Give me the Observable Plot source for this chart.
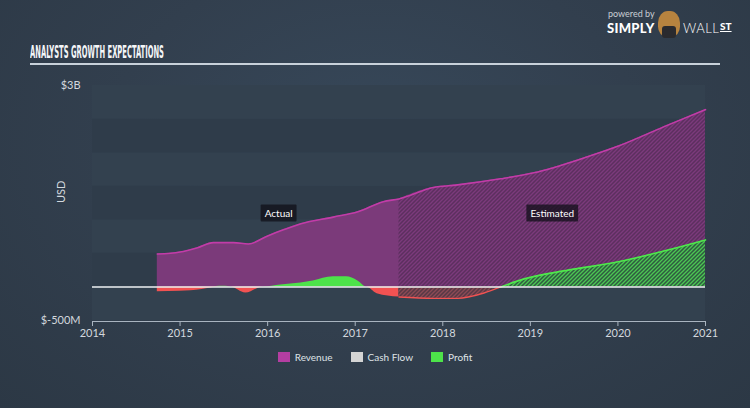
<!DOCTYPE html>
<html>
<head>
<meta charset="utf-8">
<script src="https://cdn.jsdelivr.net/npm/d3@7"></script>
<script src="https://cdn.jsdelivr.net/npm/@observablehq/plot@0.6"></script>
<style>
  html, body { margin: 0; padding: 0; }
  body { width: 750px; height: 408px; overflow: hidden; background: #2f3c4a; }
  #wrap { position: relative; width: 750px; height: 408px;
    background: radial-gradient(ellipse at 50% 35%, #37485a 0%, #323f4e 50%, #2c3845 100%);
    font-family: Lato, "Open Sans", sans-serif; }
  #title { position: absolute; left: 30px; top: 44px; color: #f4f6f8; font-family: "Liberation Sans Narrow", "DejaVu Sans Condensed", sans-serif;
    font-weight: bold; font-size: 17px; line-height: 17px; white-space: nowrap; transform-origin: 0 0; }
  #rule { position: absolute; left: 30px; top: 63px; width: 690px; height: 1.5px; background: #c8d1da; }
  #chart { position: absolute; left: 0; top: 70px; }
  #legend { position: absolute; left: 0; top: 351px; width: 750px; display: flex; justify-content: center; gap: 18px;
    font-size: 10px; color: #dfe3e7; font-family: Lato, sans-serif; }
  #legend .item { display: flex; align-items: center; gap: 5px; }
  #legend .sw { width: 12px; height: 10px; display: inline-block; }
  #logo { position: absolute; left: 606px; top: 8px; color: #fff; font-family: Lato, sans-serif; }
  #logo .pb { position: absolute; left: 2px; top: 0px; font-size: 9px; color: #c9ced4; white-space: nowrap; }
  #logo .simply { position: absolute; left: 1px; top: 12px; font-size: 13px; font-weight: 900; letter-spacing: 0.3px; }
  #logo .icon { position: absolute; left: 52px; top: 3px; width: 22px; height: 26px; border-radius: 45% 45% 40% 40%; background: #b7833f; }
  #logo .icon2 { position: absolute; left: 56px; top: 18px; width: 14px; height: 12px; border-radius: 3px; background: #2a2a2e; }
  #logo .wall { position: absolute; left: 77px; top: 12px; font-size: 13px; font-weight: 300; letter-spacing: 0.5px; }
  #logo .st { position: absolute; left: 114px; top: 12px; font-size: 10px; font-weight: 900; text-decoration: underline; }
</style>
</head>
<body>
<div id="wrap">
  <div id="logo">
    <span class="pb">powered by</span>
    <span class="simply">SIMPLY</span>
    <span class="icon"></span><span class="icon2"></span>
    <span class="wall">WALL</span>
    <span class="st">ST</span>
  </div>
  <div id="title">ANALYSTS GROWTH EXPECTATIONS</div>
  <div id="rule"></div>
  <div id="chart"></div>
  <div id="legend"></div>
</div>
<script>
// ---- data (values in billions USD) ----
const revenueYears = [2014.74, 2015.0, 2015.2, 2015.38, 2015.61, 2015.78, 2016.0, 2016.18, 2016.38, 2016.75, 2017.03, 2017.32, 2017.5, 2017.89, 2018.17, 2018.66, 2019.04, 2019.61, 2019.99, 2020.57, 2021.0];
const revenueValues = [0.49, 0.52, 0.585, 0.66, 0.66, 0.64, 0.76, 0.85, 0.94, 1.04, 1.12, 1.27, 1.31, 1.48, 1.52, 1.61, 1.70, 1.92, 2.09, 2.41, 2.64];

const profitYears = [2014.74, 2015.0, 2015.25, 2015.38, 2015.45, 2015.52, 2015.58, 2015.75, 2015.95, 2016.15, 2016.38, 2016.52, 2016.75, 2016.9, 2017.03, 2017.13, 2017.25, 2017.5, 2017.89, 2018.17, 2018.47, 2018.66, 2018.93, 2019.43, 2019.99, 2020.57, 2021.0];
const profitValues = [-0.07, -0.065, -0.04, -0.01, 0.01, 0.01, 0.0, -0.09, 0.0, 0.03, 0.06, 0.09, 0.15, 0.15, 0.09, 0.0, -0.10, -0.15, -0.17, -0.17, -0.09, 0.0, 0.12, 0.25, 0.37, 0.55, 0.70];

const estimateStart = 2017.5;
const xTicks = [2014, 2015, 2016, 2017, 2018, 2019, 2020, 2021];
const yTicks = [3, -0.5];
const yTickLabels = ["$3B", "$-500M"];
const bandEdges = [-0.5, 0, 0.5, 1, 1.5, 2, 2.5, 3];
const phaseLabels = ["Actual", "Estimated"];
const phaseX = [2016.125, 2019.25];
const phaseY = [1.09, 1.09];
const legendNames = ["Revenue", "Cash Flow", "Profit"];
const legendColors = ["#b43ea2", "#d4d4d4", "#4de34a"];

// ---- tables ----
const revenue = revenueYears.map((year, i) => ({year, value: revenueValues[i]}));
const profit = profitYears.map((year, i) => ({year, value: profitValues[i], pos: Math.max(0, profitValues[i]), neg: Math.min(0, profitValues[i])}));
const revEst = revenue.filter(d => d.year >= estimateStart);
const profAct = profit.filter(d => d.year <= estimateStart);
const profEst = profit.filter(d => d.year >= estimateStart);
const bands = bandEdges.slice(0, -1).map((y1, i) => ({y1, y2: bandEdges[i + 1], k: (bandEdges.length - 2 - i) % 2}));
const labels = phaseLabels.map((t, i) => ({t, x: phaseX[i], y: phaseY[i]}));

const curve = "monotone-x";
const svg = Plot.plot({
  width: 750,
  height: 275,
  marginTop: 15,
  marginBottom: 25,
  marginLeft: 92,
  marginRight: 45,
  style: {background: "transparent", color: "#d3d8de", fontFamily: "Lato, sans-serif", fontSize: "11px"},
  x: {domain: [2014, 2021]},
  y: {domain: [-0.5, 3]},
  marks: [
    Plot.rect(bands, {y1: "y1", y2: "y2", fill: d => d.k ? "#2f3c4a" : "#33414f"}),
    Plot.areaY(revenue, {x: "year", y: "value", curve, fill: "#7b3a7a"}),
    Plot.areaY(revEst, {x: "year", y: "value", curve, fill: "url(#hRev)"}),
    Plot.areaY(profAct, {x: "year", y: "pos", curve, fill: "#4de34a"}),
    Plot.areaY(profAct, {x: "year", y: "neg", curve, fill: "#f25252"}),
    Plot.areaY(profEst, {x: "year", y: "pos", curve, fill: "url(#hGreen)"}),
    Plot.areaY(profEst, {x: "year", y: "neg", curve, fill: "url(#hRed)"}),
    Plot.lineY(revenue, {x: "year", y: "value", curve, stroke: "#c23ca8", strokeWidth: 1.6}),
    Plot.lineY(profEst.filter(d => d.year >= 2018.66), {x: "year", y: "pos", curve, stroke: "#4fe84c", strokeWidth: 1.6}),
    Plot.lineY(profEst.filter(d => d.year <= 2018.66), {x: "year", y: "neg", curve, stroke: "#f25252", strokeWidth: 1.4}),
    Plot.ruleY([0], {stroke: "#eef0f2", strokeWidth: 1.5}),
    Plot.ruleY([-0.5], {stroke: "#a9b4c0", strokeWidth: 1.2, dy: 1}),
    Plot.axisX({ticks: xTicks, tickFormat: d => String(d), tickSize: 5, tickPadding: 3, stroke: "#a9b4c0", fill: "#d3d8de", label: null, dy: 1}),
    Plot.axisY({ticks: yTicks, tickFormat: d => yTickLabels[yTicks.indexOf(d)], tickSize: 0, tickPadding: 12, label: null, fill: "#d3d8de"}),
    Plot.text(["USD"], {frameAnchor: "left", dx: -31, rotate: -90, fill: "#d3d8de", fontSize: 11}),
    Plot.text(labels, {x: "x", y: "y", text: "t", fill: "#ffffff", fontSize: 10})
  ]
});

document.getElementById("chart").appendChild(svg);

// patterns for estimated (hatched) areas
const ns = "http://www.w3.org/2000/svg";
const defs = document.createElementNS(ns, "defs");
function pattern(id, bg, line) {
  const p = document.createElementNS(ns, "pattern");
  p.setAttribute("id", id);
  p.setAttribute("patternUnits", "userSpaceOnUse");
  p.setAttribute("width", 4);
  p.setAttribute("height", 4);
  const r = document.createElementNS(ns, "rect");
  r.setAttribute("width", 4); r.setAttribute("height", 4); r.setAttribute("fill", bg);
  const path = document.createElementNS(ns, "path");
  path.setAttribute("d", "M-1,1 l2,-2 M0,4 l4,-4 M3,5 l2,-2");
  path.setAttribute("stroke", line);
  path.setAttribute("stroke-width", 1.3);
  p.appendChild(r); p.appendChild(path);
  defs.appendChild(p);
}
pattern("hRev", "#5c2f5f", "#7c3a7c");
pattern("hGreen", "#2f5b40", "#4cc753");
pattern("hRed", "#573845", "#8c4a55");
svg.insertBefore(defs, svg.firstChild);

// dark boxes behind phase labels (last text mark)
const textGroups = svg.querySelectorAll('g[aria-label="text"]');
const lg = textGroups[textGroups.length - 1];
if (lg) {
  lg.querySelectorAll("text").forEach(t => {
    const b = t.getBBox();
    const r = document.createElementNS(ns, "rect");
    r.setAttribute("x", b.x - 4); r.setAttribute("y", b.y - 2.5);
    r.setAttribute("width", b.width + 8); r.setAttribute("height", b.height + 5);
    r.setAttribute("fill", "rgba(14,14,22,0.72)");
    r.setAttribute("rx", 1);
    const tr = t.getAttribute("transform");
    if (tr) r.setAttribute("transform", tr);
    lg.insertBefore(r, t);
  });
}

// title condensing
const title = document.getElementById("title");
const tw = title.getBoundingClientRect().width;
title.style.transform = `scaleX(${134 / tw})`;

// legend
const legend = document.getElementById("legend");
legendNames.forEach((n, i) => {
  const it = document.createElement("div");
  it.className = "item";
  it.innerHTML = `<span class="sw" style="background:${legendColors[i]}"></span><span>${n}</span>`;
  legend.appendChild(it);
});
</script>
</body>
</html>
